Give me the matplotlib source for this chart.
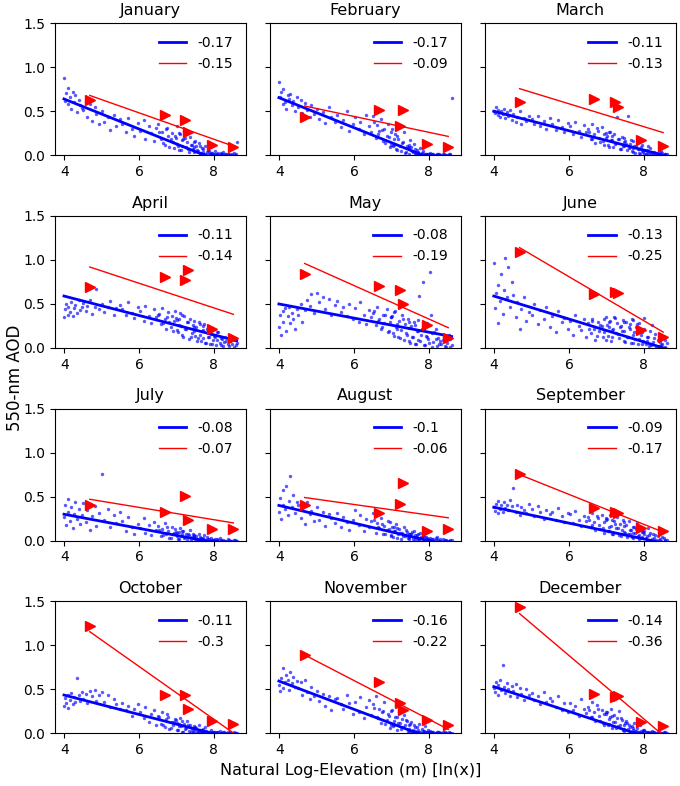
import matplotlib
matplotlib.use("Agg")
import matplotlib.pyplot as plt
import numpy as np

MONTHS = ["January", "February", "March", "April", "May", "June",
          "July", "August", "September", "October", "November", "December"]

# natural log of grid-cell elevation (m); the last row is the dense high-elevation block
CELL_LOG_ELEV = [
    3.99, 4.02, 4.05, 4.09, 4.11, 4.16, 4.18, 4.23, 4.27, 4.29, 4.35, 4.38, 4.43, 4.47,
    4.51, 4.58, 4.61, 4.69, 4.73, 4.81, 4.85, 4.94,
    5.02, 5.07, 5.17, 5.23, 5.33, 5.39, 5.49,
    5.55, 5.66, 5.71, 5.82, 5.87, 5.97,
    6.03, 6.12, 6.17, 6.26, 6.31, 6.41, 6.45,
    6.51, 6.58, 6.61, 6.68, 6.71, 6.78, 6.81, 6.88, 6.91, 6.98,
    7.02, 7.04, 7.10, 7.12, 7.18, 7.21, 7.26, 7.28, 7.34, 7.36, 7.42, 7.44, 7.50,
    7.52, 7.58, 7.60, 7.66, 7.68, 7.74, 7.76, 7.82, 7.84, 7.90, 7.92, 7.98,
    8.02, 8.05, 8.12, 8.15, 8.22, 8.25, 8.33, 8.37, 8.46, 8.53, 8.61,
    6.54, 6.63, 6.74, 6.84, 6.94, 6.95, 7.00, 7.06, 7.07, 7.14, 7.16, 7.23, 7.31, 7.39,
    7.46, 7.47, 7.48, 7.55, 7.63, 7.64, 7.70, 7.71, 7.72, 7.79, 7.87, 7.88, 7.95, 7.96,
    8.00, 8.08, 8.09, 8.18, 8.19, 8.28, 8.30, 8.41, 8.43, 8.49, 8.56, 8.58,
]

# satellite 550-nm AOD per grid cell, x100
AOD_JAN = [88, 62, 71, 58, 76, 66, 53, 72, 60, 68, 49, 63, 57, 54, 52, 61, 44, 58, 39, 55, 47, 35,
           50, 38, 44, 29, 46, 33, 41, 35, 26, 42, 30, 22, 37, 28, 40, 19, 33, 25, 16, 31,
           36, 18, 27, 12, 30, 22, 9, 25, 15, 20, 33, 11, 24, 6, 18, 28, 9, 15, 4, 21, 12, 7, 16,
           10, 5, 14, 3, 8, 2, 11, 4, 6, 1, 3, 2, 5, 1, 3, 0, 2, 4, 1, 2, 0, 3, 15,
           26, 14, 31, 19, 8, 22, 13, 25, 6, 17, 10, 20, 7, 12, 4, 15, 9, 6, 3, 11,
           2, 7, 4, 1, 5, 2, 3, 0, 1, 2, 0, 1, 3, 0, 1, 2, 0, 1, 0, 1]
AOD_FEB = [83, 66, 72, 58, 75, 61, 53, 69, 64, 70, 57, 62, 50, 66, 55, 63, 48, 59, 51, 44, 57, 47,
           53, 41, 49, 37, 55, 44, 38, 46, 32, 40, 50, 28, 36, 43, 30, 38, 24, 46, 33, 27,
           45, 20, 34, 28, 41, 16, 30, 22, 35, 12, 30, 10, 24, 7, 19, 33, 5, 14, 27, 3, 11, 8, 17,
           9, 4, 13, 2, 6, 1, 8, 3, 5, 1, 2, 1, 3, 1, 2, 0, 1, 2, 0, 1, 0, 1, 65,
           38, 24, 29, 14, 21, 9, 26, 12, 18, 6, 22, 10, 15, 4, 9, 2, 12, 5, 1, 7,
           3, 1, 4, 2, 0, 1, 2, 0, 1, 0, 1, 0, 0, 1, 0, 1, 0, 0, 1, 0]
AOD_MAR = [50, 48, 55, 46, 52, 44, 50, 47, 53, 42, 49, 45, 51, 40, 47, 38, 44, 50, 36, 42, 39, 45,
           41, 35, 45, 33, 39, 30, 42, 36, 29, 40, 32, 26, 37, 33, 24, 38, 28, 21, 34, 26,
           30, 18, 35, 24, 14, 28, 20, 32, 16, 25, 22, 12, 27, 17, 9, 24, 14, 43, 19, 7, 21, 11, 16,
           13, 45, 8, 17, 5, 11, 3, 14, 7, 2, 9, 4, 6, 2, 10, 1, 4, 0, 3, 1, 5, 0, 2,
           27, 19, 31, 15, 24, 12, 20, 26, 9, 17, 22, 13, 18, 7, 15, 11, 20, 6, 13, 9,
           4, 16, 8, 11, 3, 7, 5, 12, 2, 6, 3, 8, 1, 4, 2, 5, 0, 3, 1, 2]
AOD_APR = [35, 44, 50, 38, 47, 41, 52, 36, 45, 49, 40, 54, 43, 47, 51, 42, 48, 55, 39, 46, 67, 44,
           50, 41, 47, 53, 38, 45, 49, 44, 37, 52, 40, 34, 46, 42, 31, 48, 36, 28, 44, 35,
           38, 27, 45, 33, 22, 41, 30, 36, 19, 34, 32, 18, 40, 25, 13, 36, 22, 29, 10, 33, 17, 26, 14,
           24, 11, 30, 8, 19, 27, 6, 21, 13, 4, 16, 9, 12, 3, 18, 6, 10, 2, 8, 4, 11, 1, 6,
           39, 28, 35, 24, 31, 42, 20, 33, 26, 15, 37, 22, 29, 12, 31, 19, 24, 8, 27, 15,
           20, 11, 25, 6, 17, 12, 22, 4, 14, 9, 18, 3, 11, 7, 13, 2, 8, 5, 9, 3]
AOD_MAY = [24, 38, 15, 42, 30, 45, 19, 36, 47, 28, 40, 33, 22, 44, 37, 50, 29, 43, 55, 48, 61, 40,
           63, 52, 58, 44, 56, 38, 49, 53, 41, 47, 36, 50, 33, 45, 30, 52, 38, 27, 43, 35,
           40, 26, 47, 33, 21, 38, 28, 44, 18, 35, 36, 17, 42, 24, 12, 31, 20, 38, 9, 27, 15, 33, 6,
           25, 12, 30, 5, 19, 59, 8, 22, 75, 3, 14, 10, 86, 37, 7, 18, 2, 11, 4, 9, 1, 15, 3,
           42, 31, 24, 38, 19, 29, 35, 14, 41, 22, 27, 11, 33, 17, 23, 8, 30, 13, 26, 4,
           19, 32, 9, 15, 21, 3, 12, 28, 6, 17, 1, 10, 22, 4, 8, 13, 2, 6, 10, 1]
AOD_JUN = [97, 45, 62, 28, 71, 53, 84, 39, 66, 102, 58, 92, 47, 75, 60, 35, 52, 22, 44, 58, 31, 41,
           38, 50, 27, 43, 33, 47, 24, 36, 18, 42, 29, 34, 22, 31, 15, 38, 25, 20, 33, 12,
           28, 17, 33, 22, 9, 30, 19, 25, 13, 35, 26, 14, 31, 8, 22, 35, 17, 28, 11, 24, 19, 32, 7,
           29, 13, 24, 6, 33, 18, 10, 27, 4, 21, 15, 8, 34, 5, 12, 2, 26, 7, 1, 9, 3, 11, 6,
           22, 31, 14, 26, 18, 33, 9, 24, 29, 13, 20, 34, 16, 25, 8, 30, 19, 12, 27, 21,
           6, 32, 15, 24, 10, 28, 18, 5, 22, 13, 8, 19, 3, 11, 16, 2, 7, 4, 9, 1]
AOD_JUL = [27, 41, 18, 33, 47, 22, 38, 14, 30, 44, 25, 36, 19, 29, 43, 21, 35, 12, 28, 39, 17, 31,
           76, 24, 36, 15, 29, 20, 33, 22, 11, 27, 16, 8, 19, 14, 26, 9, 18, 6, 21, 12,
           17, 5, 13, 20, 8, 11, 3, 15, 7, 10, 9, 2, 14, 5, 11, 3, 8, 1, 6, 12, 4, 7, 2,
           5, 1, 8, 3, 2, 6, 1, 4, 2, 0, 3, 1, 2, 0, 1, 3, 0, 1, 0, 2, 0, 1, 0,
           12, 6, 16, 3, 9, 13, 5, 10, 2, 7, 11, 4, 8, 1, 5, 3, 6, 2, 1, 4,
           0, 2, 3, 1, 0, 2, 1, 0, 1, 0, 2, 0, 1, 0, 0, 1, 0, 0, 1, 0]
AOD_AUG = [33, 48, 25, 40, 57, 36, 62, 29, 45, 73, 38, 52, 31, 44, 41, 26, 37, 19, 44, 30, 34, 22,
           38, 23, 33, 17, 30, 26, 20, 31, 15, 27, 21, 12, 24, 35, 18, 29, 11, 25, 16, 22,
           31, 9, 20, 14, 26, 7, 17, 12, 22, 5, 15, 4, 11, 19, 7, 13, 2, 9, 16, 5, 10, 3, 8,
           7, 2, 11, 4, 6, 1, 9, 3, 5, 1, 4, 2, 3, 1, 2, 0, 4, 1, 0, 2, 1, 0, 1,
           24, 15, 19, 8, 13, 21, 6, 16, 11, 3, 14, 9, 5, 12, 2, 8, 4, 10, 1, 6,
           3, 7, 2, 4, 1, 5, 0, 3, 1, 2, 0, 3, 1, 0, 2, 0, 1, 0, 1, 0]
AOD_SEP = [38, 34, 42, 31, 45, 36, 40, 33, 44, 37, 41, 35, 46, 39, 60, 33, 41, 29, 38, 35, 31, 42,
           36, 28, 39, 32, 25, 35, 30, 33, 24, 37, 28, 21, 31, 30, 20, 34, 24, 17, 28, 22,
           27, 16, 31, 21, 12, 26, 18, 29, 14, 23, 25, 11, 29, 17, 8, 22, 14, 27, 6, 19, 12, 24, 9,
           18, 7, 22, 12, 4, 16, 9, 20, 5, 13, 3, 10, 11, 3, 14, 6, 2, 8, 1, 5, 0, 3, 1,
           24, 18, 28, 13, 21, 9, 26, 16, 11, 23, 7, 19, 14, 5, 17, 10, 21, 4, 12, 8,
           15, 3, 9, 13, 6, 2, 10, 4, 7, 1, 5, 9, 0, 3, 6, 1, 2, 4, 0, 1]
AOD_OCT = [31, 40, 35, 44, 29, 38, 46, 33, 41, 36, 63, 43, 37, 47, 39, 45, 34, 48, 42, 49, 37, 44,
           47, 36, 43, 30, 39, 33, 28, 35, 26, 31, 20, 28, 33, 24, 17, 30, 13, 22, 27, 9,
           20, 11, 24, 7, 16, 19, 5, 13, 9, 15, 12, 4, 17, 8, 2, 11, 6, 14, 3, 9, 5, 1, 7,
           6, 2, 9, 1, 4, 3, 7, 1, 2, 0, 4, 1, 2, 0, 1, 3, 0, 1, 0, 2, 0, 1, 0,
           18, 10, 22, 6, 13, 16, 4, 11, 8, 2, 14, 5, 9, 1, 6, 3, 8, 1, 4, 2,
           0, 5, 1, 3, 0, 2, 1, 0, 1, 0, 1, 0, 0, 1, 0, 0, 1, 0, 0, 0]
AOD_NOV = [55, 48, 63, 52, 74, 58, 66, 61, 49, 70, 57, 64, 53, 60, 51, 58, 44, 61, 47, 39, 53, 42,
           48, 37, 45, 31, 42, 26, 39, 40, 33, 28, 44, 35, 22, 36, 24, 41, 17, 30, 38, 21,
           33, 42, 19, 28, 12, 25, 36, 15, 22, 9, 27, 8, 19, 32, 12, 24, 5, 16, 21, 9, 14, 3, 11,
           13, 4, 9, 2, 7, 11, 1, 5, 3, 8, 2, 4, 3, 1, 2, 0, 1, 2, 0, 1, 0, 2, 0,
           29, 17, 24, 11, 20, 6, 25, 14, 9, 18, 4, 12, 7, 15, 2, 9, 5, 1, 7, 3,
           1, 4, 2, 0, 3, 1, 0, 2, 1, 0, 1, 0, 0, 1, 0, 0, 1, 0, 0, 0]
AOD_DEC = [52, 47, 58, 44, 55, 61, 49, 78, 53, 46, 57, 50, 42, 54, 48, 56, 41, 52, 45, 38, 50, 43,
           46, 38, 42, 33, 47, 36, 40, 37, 30, 42, 27, 34, 24, 35, 26, 31, 20, 39, 28, 23,
           30, 18, 36, 24, 14, 28, 20, 26, 12, 22, 24, 9, 19, 28, 13, 21, 6, 17, 25, 10, 15, 4, 12,
           14, 5, 10, 2, 8, 12, 3, 6, 1, 9, 3, 4, 4, 1, 2, 0, 3, 1, 0, 2, 0, 1, 0,
           27, 19, 32, 14, 22, 9, 24, 16, 11, 20, 6, 13, 8, 17, 3, 10, 5, 12, 2, 7,
           4, 1, 6, 3, 0, 2, 1, 0, 3, 1, 0, 2, 0, 1, 0, 1, 0, 0, 1, 0]
CELL_AOD = [AOD_JAN, AOD_FEB, AOD_MAR, AOD_APR, AOD_MAY, AOD_JUN,
            AOD_JUL, AOD_AUG, AOD_SEP, AOD_OCT, AOD_NOV, AOD_DEC]

# ground stations, natural log elevation and monthly AOD
STATION_LOG_ELEV = [4.68, 6.68, 7.22, 7.32, 7.94, 8.52]
STATION_AOD = [
    [0.63, 0.46, 0.40, 0.27, 0.12, 0.09],
    [0.44, 0.51, 0.33, 0.51, 0.13, 0.09],
    [0.61, 0.64, 0.60, 0.55, 0.17, 0.11],
    [0.69, 0.81, 0.77, 0.89, 0.21, 0.11],
    [0.84, 0.70, 0.66, 0.50, 0.26, 0.11],
    [1.09, 0.61, 0.64, 0.63, 0.20, 0.13],
    [0.41, 0.33, 0.51, 0.23, 0.13, 0.13],
    [0.40, 0.31, 0.42, 0.66, 0.11, 0.13],
    [0.76, 0.37, 0.32, 0.31, 0.14, 0.11],
    [1.22, 0.43, 0.43, 0.28, 0.14, 0.11],
    [0.89, 0.58, 0.34, 0.27, 0.15, 0.09],
    [1.43, 0.45, 0.41, 0.42, 0.13, 0.08],
]

# fitted slopes (legend) and fit value at the lowest elevation
CELL_SLOPE = [-0.17, -0.17, -0.11, -0.11, -0.08, -0.13, -0.08, -0.1, -0.09, -0.11, -0.16, -0.14]
CELL_FIT_START = [0.64, 0.655, 0.50, 0.59, 0.50, 0.59, 0.30, 0.40, 0.38, 0.435, 0.594, 0.53]
STATION_SLOPE = [-0.15, -0.09, -0.13, -0.14, -0.19, -0.25, -0.07, -0.06, -0.17, -0.3, -0.22, -0.36]
STATION_FIT_START = [0.68, 0.56, 0.757, 0.92, 0.96, 1.14, 0.47, 0.49, 0.75, 1.155, 0.89, 1.36]


def fit_line(x_lo, x_hi, start, slope):
    xs = np.array([x_lo, x_hi])
    return xs, start + slope * (xs - x_lo)


def main() -> None:
    fig, axes = plt.subplots(4, 3, figsize=(6.8, 7.86), dpi=100, sharey=True)
    fig.subplots_adjust(left=55 / 680, right=675.5 / 680, top=1 - 23.3 / 786,
                        bottom=1 - 733.3 / 786, wspace=0.127, hspace=0.46)

    cell_x = np.array(CELL_LOG_ELEV)
    st_x = np.array(STATION_LOG_ELEV)

    for i, ax in enumerate(axes.flat):
        cell_y = np.array(CELL_AOD[i]) / 100.0
        ax.scatter(cell_x, cell_y, s=6, color="blue", alpha=0.65, linewidths=0, zorder=2)

        bx, by = fit_line(cell_x.min(), cell_x.max(), CELL_FIT_START[i], CELL_SLOPE[i])
        blue_line, = ax.plot(bx, by, color="blue", lw=2.0, zorder=3)

        ax.plot(st_x, STATION_AOD[i], ">", color="red", markersize=6.5, zorder=4)
        rx, ry = fit_line(st_x.min(), st_x.max(), STATION_FIT_START[i], STATION_SLOPE[i])
        red_line, = ax.plot(rx, ry, color="red", lw=1.0, zorder=3)

        ax.legend([blue_line, red_line], [str(CELL_SLOPE[i]), str(STATION_SLOPE[i])],
                  loc="upper right", frameon=False, fontsize=10)
        ax.set_title(MONTHS[i], fontsize=11.5)
        ax.set_xlim(3.75, 8.85)
        ax.set_ylim(0, 1.5)
        ax.set_xticks([4, 6, 8])
        ax.set_yticks([0.0, 0.5, 1.0, 1.5])
        ax.tick_params(labelsize=10)

    fig.text(351 / 680, 1 - 770 / 786, "Natural Log-Elevation (m) [ln(x)]",
             ha="center", va="center", fontsize=11.5)
    fig.text(15 / 680, 1 - 378 / 786, "550-nm AOD", rotation=90,
             ha="center", va="center", fontsize=12)

    fig.savefig("out.png", dpi=100)
    plt.close(fig)


if __name__ == "__main__":
    main()
